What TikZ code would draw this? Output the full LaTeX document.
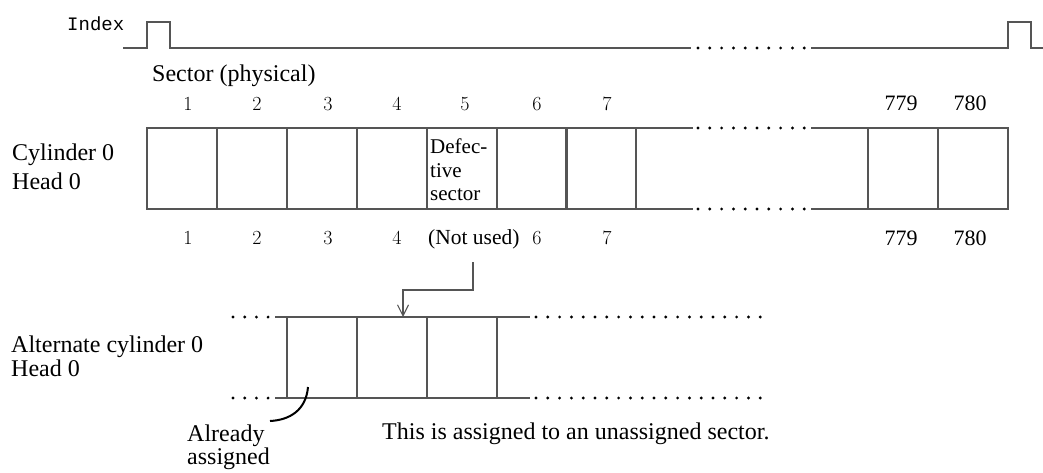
\documentclass[tikz,border=0pt]{standalone}
\usepackage{fontspec}
\newfontfamily\tms{Liberation Serif}
\newfontfamily\monof{Liberation Mono}
\usetikzlibrary{arrows.meta}
\definecolor{linec}{RGB}{85,85,85}
\begin{document}
\begin{tikzpicture}[x=1pt,y=-1pt,
  ln/.style={draw=linec, line width=1.1pt},
  cell/.style={draw=linec, line width=1.1pt, minimum width=70pt, minimum height=81pt, inner sep=0pt, outer sep=0pt, anchor=north west},
  lbl/.style={inner sep=0pt, anchor=base west, font=\tms\fontsize{24}{26}\selectfont},
  num/.style={inner sep=0pt, anchor=base, font=\fontsize{20}{22}\selectfont},
  bnum/.style={inner sep=0pt, anchor=base, font=\tms\fontsize{22}{24}\selectfont},
  dotc/.style={fill=black},
]
\useasboundingbox (0,0) rectangle (1043,472);

% ---------- Index signal ----------
\node[inner sep=0pt, anchor=base west, font=\monof\fontsize{19}{20}\selectfont] (idx) at (67,30) {Index};
\draw[ln] (123,48) -- (147,48) -- (147,22) -- (170,22) -- (170,48) -- (691,48);
\foreach \i in {0,...,9} \fill[dotc] (698+\i*11.8,48) circle (1.6);
\draw[ln] (811,48) -- (1008,48) -- (1008,22) -- (1031,22) -- (1031,48) -- (1043,48);

% ---------- Main track ----------
\node[lbl] (sect) at (152,81) {Sector (physical)};
\foreach \n/\x in {1/188,2/257,3/328,4/397,5/465,6/537,7/607}
  \node[num] (t\n) at (\x,110) {\n};
\node[bnum] (t779) at (901,110) {779};
\node[bnum] (t780) at (970,110) {780};

\node[lbl] (cyl) at (12,160) {Cylinder 0};
\node[lbl] (hd) at (12,189) {Head 0};

\foreach \k/\x in {1/147,2/217,3/287,4/357,5/427,6/497,7/566}
  \node[cell] (c\k) at (\x,128) {};
\node[cell] (c779) at (868,128) {};
\node[cell] (c780) at (938,128) {};
\draw[ln] (c7.north east) -- (693,128);
\draw[ln] (c7.south east) -- (693,209);
\draw[ln] (811,128) -- (c779.north west);
\draw[ln] (811,209) -- (c779.south west);
\foreach \i in {0,...,9} {
  \fill[dotc] (698+\i*11.8,128) circle (1.6);
  \fill[dotc] (698+\i*11.8,209) circle (1.6);
}

\node[inner sep=0pt, anchor=north west, align=left, font=\tms\fontsize{21}{23.5}\selectfont] (def) at (430,139) {Defec-\\tive\\sector};

\foreach \n/\x in {1/188,2/257,3/328,4/397,6/537,7/607}
  \node[num] (b\n) at (\x,244) {\n};
\node[lbl, font=\tms\fontsize{21.5}{24}\selectfont] (notused) at (428,244) {(Not used)};
\node[bnum] (b779) at (901,245) {779};
\node[bnum] (b780) at (970,245) {780};

% ---------- Alternate cylinder ----------
\node[lbl] (alt) at (11,352) {Alternate cylinder 0};
\node[lbl] (ahd) at (11,376) {Head 0};

\node[cell] (a1) at (287,317) {};
\node[cell] (a2) at (357,317) {};
\node[cell] (a3) at (427,317) {};
\draw[ln] (275,317) -- (a1.north west);
\draw[ln] (275,398) -- (a1.south west);
\draw[ln] (a3.north east) -- (530,317);
\draw[ln] (a3.south east) -- (530,398);
\foreach \i in {0,...,3} {
  \fill[dotc] (233+\i*11.7,317) circle (1.6);
  \fill[dotc] (233+\i*11.7,398) circle (1.6);
}
\foreach \i in {0,...,19} {
  \fill[dotc] (536+\i*11.8,317) circle (1.6);
  \fill[dotc] (536+\i*11.8,398) circle (1.6);
}

% arrow from "not used" to alternate sector
\coordinate (astart) at (473,262);
\coordinate (atgt) at (403,317);
\draw[ln, -{Straight Barb[length=11pt,width=11pt]}] (astart) -- (473,290) -| (atgt);

% already assigned
\draw[line width=2pt, black] (308,387) .. controls (306,410) and (290,420) .. (270,421);
\node[lbl] (already) at (187,441) {Already};
\node[lbl] (assigned) at (187,464) {assigned};

\node[lbl] (note) at (382,439) {This is assigned to an unassigned sector.};
\end{tikzpicture}
\end{document}
